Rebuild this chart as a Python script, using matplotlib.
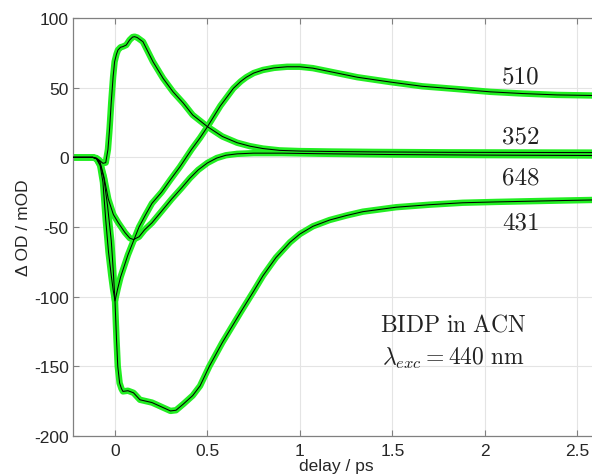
import matplotlib
matplotlib.use("Agg")
import matplotlib.pyplot as plt

plt.rcParams['font.family'] = ['Liberation Sans', 'DejaVu Sans']
plt.rcParams['mathtext.fontset'] = 'cm'

# traces (delay in ps, signal in mOD)
t_352 = [-0.23, -0.12, -0.09, -0.065, -0.05, -0.038, -0.029, -0.02, -0.01, -0.002, 0.008, 0.016,
         0.03, 0.043, 0.061, 0.079, 0.095, 0.106, 0.12, 0.151, 0.205, 0.26, 0.314, 0.37, 0.42,
         0.5, 0.58, 0.66, 0.73, 0.8, 0.89, 1.0, 1.16, 1.4, 1.8, 2.2, 2.62]
y_352 = [0, 0, -1.5, -4.3, -3.8, 5.7, 21, 40, 58, 68.7, 74, 77,
         79, 79.5, 80.6, 84.2, 86.3, 86.6, 86, 83, 68.7, 56.7, 47, 38.8, 30.4,
         22, 15, 10.5, 8, 6.3, 5, 4.5, 4.2, 3.9, 3.6, 3.5, 3.4]

t_510 = [-0.23, -0.12, -0.1, -0.08, -0.065, -0.05, -0.035, -0.02, -0.01, 0.0, 0.015, 0.03,
         0.045, 0.07, 0.1, 0.13, 0.162, 0.2, 0.252, 0.3, 0.35, 0.414, 0.46, 0.5, 0.57, 0.64,
         0.68, 0.71, 0.75, 0.8, 0.86, 0.93, 1.0, 1.07, 1.2, 1.31, 1.49, 1.66, 1.85, 2.03, 2.2,
         2.39, 2.62]
y_510 = [0, 0, -1, -6, -18, -45, -68, -85, -95, -103, -94, -86,
         -80, -70, -60, -50, -42, -33, -25, -16, -7, 5.7, 14, 22, 37, 49.5,
         54.5, 57.5, 60.5, 62.7, 64.2, 65, 65, 64, 60.5, 57.5, 54, 51, 49, 47, 45.8,
         44.8, 44.3]

t_648 = [-0.23, -0.12, -0.1, -0.08, -0.06, -0.036, -0.009, 0.018, 0.054, 0.08, 0.1, 0.13,
         0.16, 0.2, 0.25, 0.306, 0.36, 0.405, 0.45, 0.5, 0.55, 0.6, 0.66, 0.75, 0.9, 1.1,
         1.5, 2.0, 2.62]
y_648 = [0, 0, -0.5, -3.6, -14, -30, -41, -47, -54, -58, -59, -57,
         -52, -47, -39, -30, -22, -15, -9, -4, -0.5, 1.5, 2.5, 3, 3, 2.6,
         2, 1.6, 1.3]

t_431 = [-0.23, -0.12, -0.1, -0.08, -0.06, -0.04, -0.02, -0.01, 0.0, 0.008, 0.015, 0.025,
         0.035, 0.043, 0.07, 0.1, 0.135, 0.2, 0.25, 0.3, 0.33, 0.37, 0.42, 0.46, 0.51, 0.58,
         0.68, 0.75, 0.8, 0.87, 0.946, 1.0, 1.07, 1.16, 1.25, 1.34, 1.52, 1.7, 1.88, 2.06,
         2.24, 2.42, 2.62]
y_431 = [0, 0, -1, -5, -15, -35, -60, -80, -103, -130, -150, -162,
         -166, -168, -167.5, -169, -174, -176, -179, -182, -181.5, -177, -171, -164, -150, -133,
         -111, -96, -85, -72, -61, -55, -49.5, -45, -41.8, -39, -35.8, -34, -32.6, -32,
         -31.5, -31, -30.5]

traces = [(t_352, y_352), (t_510, y_510), (t_648, y_648), (t_431, y_431)]

labels = ['510', '352', '648', '431']
label_y = [58.4, 15.3, -14.4, -46.7]

xticks = [0, 0.5, 1, 1.5, 2, 2.5]
xticklabels = ['0', '0.5', '1', '1.5', '2', '2.5']
yticks = [-200, -150, -100, -50, 0, 50, 100]
yticklabels = ['-200', '-150', '-100', '-50', '0', '50', '100']

fig = plt.figure(figsize=(5.92, 4.77), dpi=100)
ax = fig.add_axes([73 / 592, 40 / 477, (600 - 73) / 592, 418 / 477])

for t, y in traces:
    ax.plot(t, y, color='#22ee22', lw=4.6, solid_capstyle='round', solid_joinstyle='round', zorder=2)
for t, y in traces:
    ax.plot(t, y, color='black', lw=0.75, zorder=3)

for lab, yy in zip(labels, label_y):
    ax.text(2.195, yy, lab, fontsize=18, ha='center', va='center',
            family='cmr10', color='#222222')

ax.text(1.83, -120, r'$\mathrm{BIDP\ in\ ACN}$', fontsize=17, ha='center', va='center', color='#222222')
ax.text(1.83, -143.6, r'$\lambda_{exc} = 440\ \mathrm{nm}$', fontsize=17, ha='center', va='center', color='#222222')

ax.set_xlim(-0.227, 2.622)
ax.set_ylim(-200, 100)
ax.set_xticks(xticks)
ax.set_xticklabels(xticklabels)
ax.set_yticks(yticks)
ax.set_yticklabels(yticklabels)
ax.grid(True, color='#e4e4e4', lw=0.8)
ax.set_axisbelow(True)
ax.tick_params(direction='in', top=True, right=True, length=4, width=0.8,
               color='#808080', labelcolor='#262626', labelsize=12.5)
ax.tick_params(axis='x', pad=5)
ax.tick_params(axis='y', pad=3)
for s in ax.spines.values():
    s.set_color('#808080')
    s.set_linewidth(0.9)

ax.set_xlabel('delay / ps', fontsize=12.5, color='#262626', labelpad=0)
ax.set_ylabel('Δ OD / mOD', fontsize=12.5, color='#262626', labelpad=2)

fig.savefig('out.png', dpi=100)
